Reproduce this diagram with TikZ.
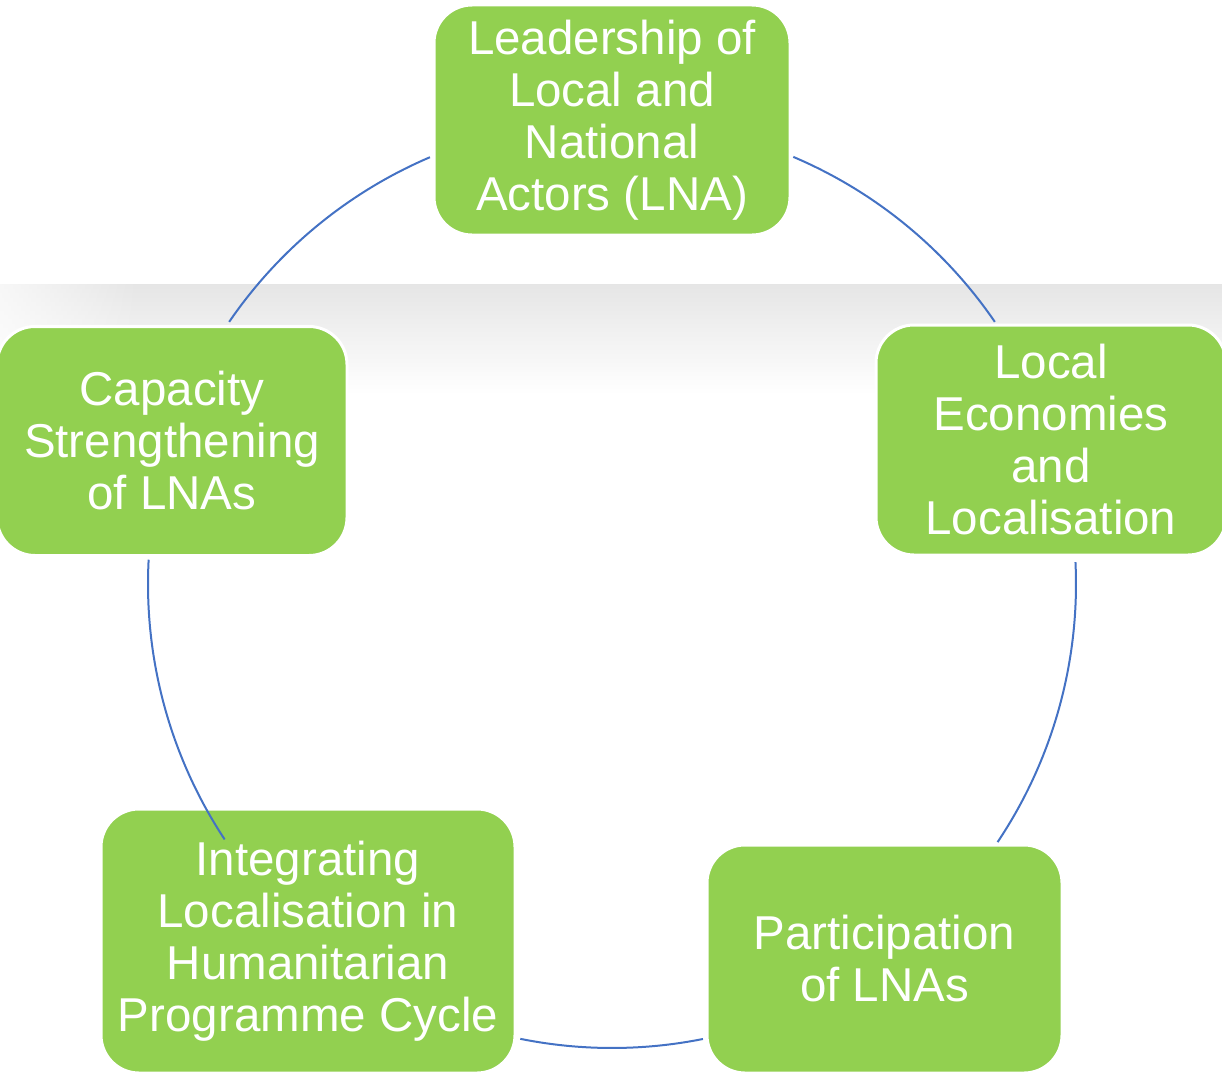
\documentclass[tikz,border=0pt]{standalone}
\usepackage{fontspec}
\setmainfont{Liberation Sans}
\usetikzlibrary{fadings}
\definecolor{stagegreen}{HTML}{92D050}
\definecolor{ringblue}{HTML}{4472C4}
\tikzfading[name=fade left edge, left color=transparent!0, right color=transparent!100]

\begin{document}
\begin{tikzpicture}[x=1pt, y=1pt,
  stage/.style={fill=stagegreen, draw=white, line width=3pt, rounded corners=38pt,
    text=white, align=center, inner sep=0pt,
    font=\fontsize{47.5}{52}\selectfont},
  ring/.style={draw=ringblue, line width=2pt}]
  \useasboundingbox (0,0) rectangle (1222,-1073);

  % soft grey band behind the middle row
  \shade[top color=gray!20, bottom color=white] (0,-284) rectangle (1222,-395);
  \fill[white, fill opacity=0.7, path fading=fade left edge] (0,-284) rectangle (140,-395);

  % the five stages
  \node[stage, minimum width=356pt, minimum height=230pt] (lead) at (612,-120)
    {Leadership of\\Local and\\National\\Actors (LNA)};
  \node[stage, minimum width=350pt, minimum height=230pt] (econ) at (1051,-440)
    {Local\\Economies\\and\\Localisation};
  \node[stage, minimum width=355pt, minimum height=228pt] (part) at (884.5,-959)
    {Participation\\of LNAs};
  \node[stage, minimum width=414pt, minimum height=264pt] (integ) at (308,-941)
    {Integrating\\Localisation in\\Humanitarian\\Programme Cycle};
  \node[stage, minimum width=350pt, minimum height=229pt] (cap) at (172,-441)
    {Capacity\\Strengthening\\of LNAs};

  % ring round the hub, one arc between each pair of stages
  \coordinate (hub) at (612,-584);
  \def\R{464}
  \foreach \a/\b in {67/34.4, 2.7/-33.8, -78.7/-101.4, -146.6/-183, 145.6/113.1}
    \draw[ring] ([shift={(\a:\R)}]hub) arc[start angle=\a, end angle=\b, radius=\R];
\end{tikzpicture}
\end{document}
